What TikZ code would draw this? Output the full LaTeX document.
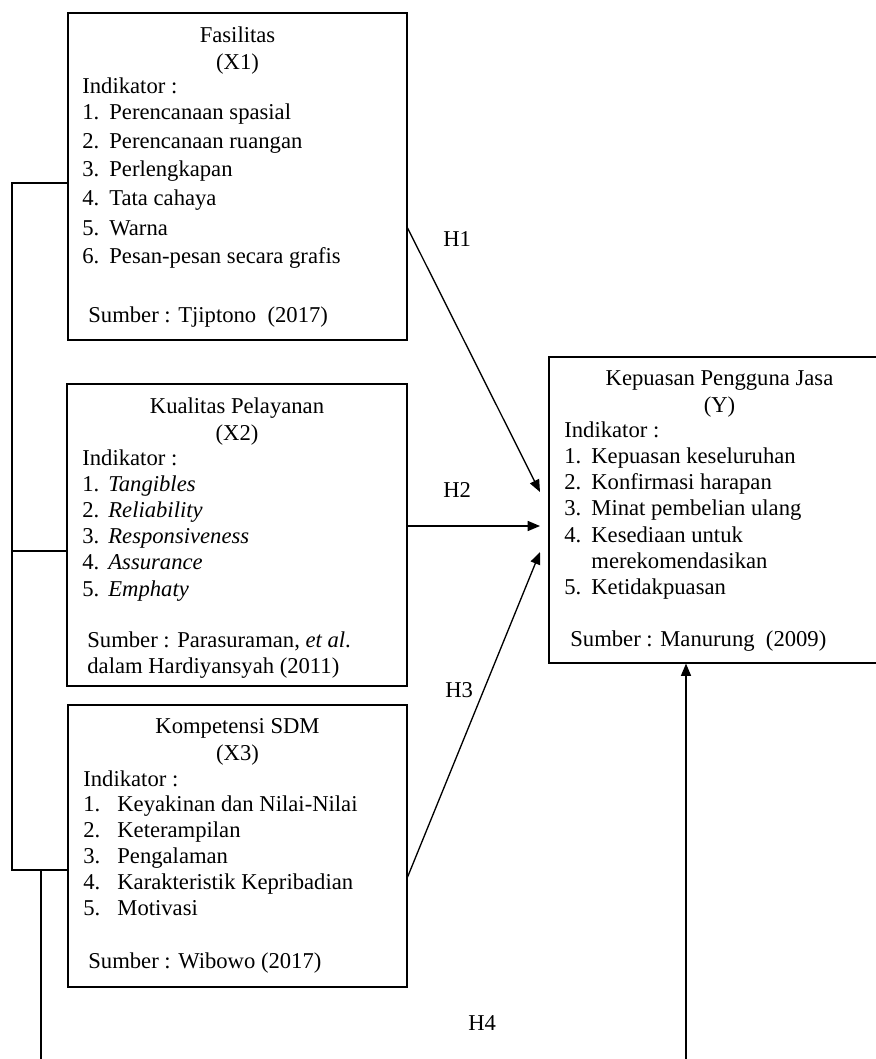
\documentclass[tikz,border=0pt]{standalone}
\usepackage{fontspec}
\setmainfont{Liberation Serif}
\usetikzlibrary{arrows.meta,fit}
\begin{document}
\begin{tikzpicture}[x=0.53pt,y=-0.53pt,
  box/.style={draw, line width=0.6pt, inner sep=0},
  txt/.style={anchor=base west, inner sep=0, font=\fontsize{12}{14}\selectfont},
  ttl/.style={anchor=base, inner sep=0, font=\fontsize{12}{14}\selectfont},
  ln/.style={line width=0.7pt},
  arr/.style={line width=0.7pt, -{Triangle[length=6.5pt,width=5.3pt]}}]
\useasboundingbox (0,0) rectangle (876,1059);
% boxes
\node[box, fit={(68,13) (407,340)}] (x1) {};
\node[box, fit={(67,384) (407,686)}] (x2) {};
\node[box, fit={(68,705) (407,987)}] (x3) {};
\node[box, fit={(549,357) (890,663)}] (y) {};
% X1 text
\node[ttl] (x1t) at (237.5,43) {Fasilitas};
\node[ttl] (x1v) at (237.5,70) {(X1)};
\node[txt] (x1i) at (82,94) {Indikator :};
\node[txt] (x1n1) at (82,120) {1.}; \node[txt] (x1a1) at (109,120) {Perencanaan spasial};
\node[txt] (x1n2) at (82,149) {2.}; \node[txt] (x1a2) at (109,149) {Perencanaan ruangan};
\node[txt] (x1n3) at (82,177) {3.}; \node[txt] (x1a3) at (109,177) {Perlengkapan};
\node[txt] (x1n4) at (82,206) {4.}; \node[txt] (x1a4) at (109,206) {Tata cahaya};
\node[txt] (x1n5) at (82,235) {5.}; \node[txt] (x1a5) at (109,235) {Warna};
\node[txt] (x1n6) at (82,263) {6.}; \node[txt] (x1a6) at (109,263) {Pesan-pesan secara grafis};
\node[txt] (x1s) at (88,322) {Sumber : Tjiptono\ \ (2017)};
% X2 text
\node[ttl] (x2t) at (237,413) {Kualitas Pelayanan};
\node[ttl] (x2v) at (237,440) {(X2)};
\node[txt] (x2i) at (82,465) {Indikator :};
\node[txt] (x2n1) at (82,491) {1.}; \node[txt] (x2a1) at (108,491) {\itshape Tangibles};
\node[txt] (x2n2) at (82,517) {2.}; \node[txt] (x2a2) at (108,517) {\itshape Reliability};
\node[txt] (x2n3) at (82,543) {3.}; \node[txt] (x2a3) at (108,543) {\itshape Responsiveness};
\node[txt] (x2n4) at (82,569) {4.}; \node[txt] (x2a4) at (108,569) {\itshape Assurance};
\node[txt] (x2n5) at (82,596) {5.}; \node[txt] (x2a5) at (108,596) {\itshape Emphaty};
\node[txt] (x2s) at (87,647) {Sumber : Parasuraman, \textit{et al}.};
\node[txt] (x2s2) at (87,673) {dalam Hardiyansyah (2011)};
% X3 text
\node[ttl] (x3t) at (237.5,733) {Kompetensi SDM};
\node[ttl] (x3v) at (237.5,760) {(X3)};
\node[txt] (x3i) at (83,786) {Indikator :};
\node[txt] (x3n1) at (83,811) {1.}; \node[txt] (x3a1) at (117,811) {Keyakinan dan Nilai-Nilai};
\node[txt] (x3n2) at (83,837) {2.}; \node[txt] (x3a2) at (117,837) {Keterampilan};
\node[txt] (x3n3) at (83,863) {3.}; \node[txt] (x3a3) at (117,863) {Pengalaman};
\node[txt] (x3n4) at (83,889) {4.}; \node[txt] (x3a4) at (117,889) {Karakteristik Kepribadian};
\node[txt] (x3n5) at (83,915) {5.}; \node[txt] (x3a5) at (117,915) {Motivasi};
\node[txt] (x3s) at (88,968) {Sumber : Wibowo (2017)};
% Y text
\node[ttl] (yt) at (719.5,385) {Kepuasan Pengguna Jasa};
\node[ttl] (yv) at (719.5,412) {(Y)};
\node[txt] (yi) at (564,437) {Indikator :};
\node[txt] (yn1) at (564,463) {1.}; \node[txt] (ya1) at (591,463) {Kepuasan keseluruhan};
\node[txt] (yn2) at (564,489) {2.}; \node[txt] (ya2) at (591,489) {Konfirmasi harapan};
\node[txt] (yn3) at (564,515) {3.}; \node[txt] (ya3) at (591,515) {Minat pembelian ulang};
\node[txt] (yn4) at (564,542) {4.}; \node[txt] (ya4) at (591,542) {Kesediaan untuk};
\node[txt] (ya4b) at (591,568) {merekomendasikan};
\node[txt] (yn5) at (564,594) {5.}; \node[txt] (ya5) at (591,594) {Ketidakpuasan};
\node[txt] (ys) at (570,646) {Sumber : Manurung\ \ (2009)};
% hypothesis labels
\node[txt] (h1) at (443,247) {H1};
\node[txt] (h2) at (443,497) {H2};
\node[txt] (h3) at (445,697) {H3};
\node[txt] (h4) at (468,1030) {H4};
% connector coordinates
\coordinate (j1) at (12,183);
\coordinate (j2) at (12,551);
\coordinate (j3) at (12,870);
\coordinate (j4) at (41,870);
\coordinate (e4) at (41,1059);
\coordinate (s1) at (0,228);
\coordinate (s2) at (0,526);
\coordinate (s3) at (0,877);
\coordinate (t1) at (540,492);
\coordinate (t2) at (540,526);
\coordinate (t3) at (540,552);
\coordinate (e5) at (686,1059);
% bracket
\draw[ln] (x1.west |- j1) -- (j1) -- (j3) -- (x3.west |- j3);
\draw[ln] (j2) -- (x2.west |- j2);
\draw[ln] (j4) -- (e4);
% arrows
\draw[arr] (x1.east |- s1) -- (t1);
\draw[arr] (x2.east |- s2) -- (t2);
\draw[arr] (x3.east |- s3) -- (t3);
\draw[arr] (e5) -- (y.south -| e5);
\end{tikzpicture}
\end{document}
